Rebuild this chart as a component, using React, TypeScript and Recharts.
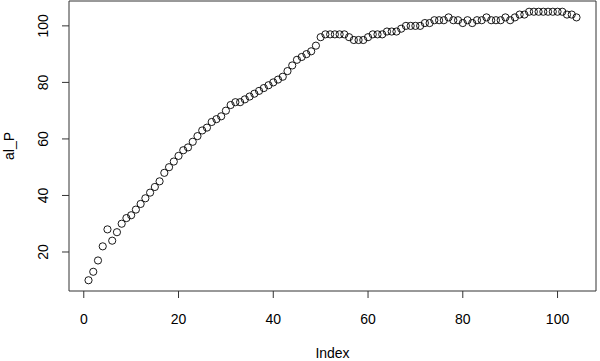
import { ScatterChart, Scatter, XAxis, YAxis, ReferenceArea } from "recharts";

// al_P values, one per index (1..104)
const alP = [
    10, 13, 17, 22, 28, 24, 27, 30, 32, 33,
    35, 37, 39, 41, 43, 45, 48, 50, 52, 54,
    56, 57, 59, 61, 63, 64, 66, 67, 68, 70,
    72, 73, 73, 74, 75, 76, 77, 78, 79, 80,
    81, 82, 84, 86, 88, 89, 90, 91, 93, 96,
    97, 97, 97, 97, 97, 96, 95, 95, 95, 96,
    97, 97, 97, 98, 98, 98, 99, 100, 100, 100,
    100, 101, 101, 102, 102, 102, 103, 102, 102, 101,
    102, 101, 102, 102, 103, 102, 102, 102, 103, 102,
    103, 104, 104, 105, 105, 105, 105, 105, 105, 105,
    105, 104, 104, 103,
];

const xTicks = [0, 20, 40, 60, 80, 100];
const yTicks = [20, 40, 60, 80, 100];

const points = alP.map((v, i) => ({ index: i + 1, value: v }));

// base R pads the data range by 4% on each side
const pad = (lo: number, hi: number) => {
    const d = (hi - lo) * 0.04;
    return [lo - d, hi + d];
};
const xDomain = pad(1, alP.length);
const yDomain = pad(Math.min(...alP), Math.max(...alP));

const FONT = '"Liberation Sans", Arial, Helvetica, sans-serif';

function OpenCircle(props: any) {
    return <circle cx={props.cx} cy={props.cy} r={3.6} fill="none" stroke="#000" strokeWidth={0.9} />;
}

function YTick({ x, y, payload }: any) {
    return (
        <text x={x} y={y} transform={`rotate(-90, ${x}, ${y})`} textAnchor="middle" fontSize={14} fill="#000">
            {payload.value}
        </text>
    );
}

function YLabel({ viewBox }: any) {
    const cx = viewBox.x + 14;
    const cy = viewBox.y + viewBox.height / 2;
    return (
        <text x={cx} y={cy} transform={`rotate(-90, ${cx}, ${cy})`} textAnchor="middle" fontSize={14} fill="#000">
            al_P
        </text>
    );
}

export default function App() {
    return (
        <div style={{ width: 600, height: 361, fontFamily: FONT, background: "#fff" }}>
            <style>{"body{margin:0}"}</style>
            <ScatterChart width={600} height={361} margin={{ top: 1, right: 4, bottom: 0, left: 0 }}>
                <XAxis
                    type="number"
                    dataKey="index"
                    domain={xDomain}
                    ticks={xTicks}
                    allowDataOverflow
                    axisLine={false}
                    tickSize={7}
                    tickMargin={16}
                    tickLine={{ stroke: "#333" }}
                    tick={{ fontSize: 14, fill: "#000" }}
                    height={70}
                    label={{ value: "Index", position: "insideBottom", offset: 3, fontSize: 14, fill: "#000" }}
                />
                <YAxis
                    type="number"
                    dataKey="value"
                    domain={yDomain}
                    ticks={yTicks}
                    allowDataOverflow
                    axisLine={false}
                    tickSize={7}
                    tickMargin={14}
                    tickLine={{ stroke: "#333" }}
                    tick={<YTick />}
                    width={69}
                    label={<YLabel />}
                />
                <ReferenceArea
                    x1={xDomain[0]}
                    x2={xDomain[1]}
                    y1={yDomain[0]}
                    y2={yDomain[1]}
                    fill="none"
                    stroke="#333"
                    strokeWidth={1}
                    ifOverflow="visible"
                />
                <Scatter data={points} shape={<OpenCircle />} isAnimationActive={false} />
            </ScatterChart>
        </div>
    );
}
